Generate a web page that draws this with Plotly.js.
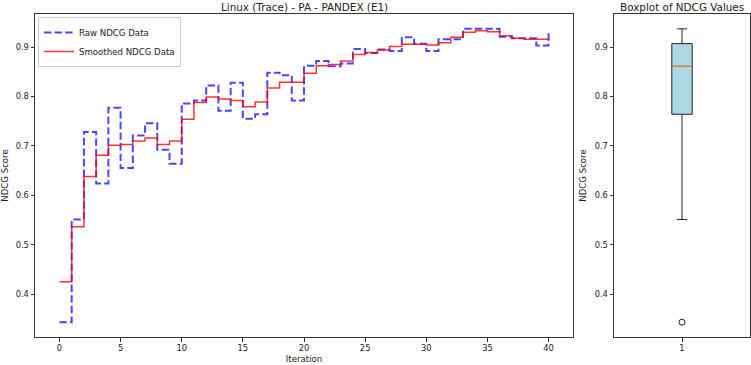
<!DOCTYPE html>
<html>
<head>
<meta charset="utf-8">
<script src="https://cdn.plot.ly/plotly-3.0.1.min.js"></script>
<style>html,body{margin:0;padding:0;background:#fff;}#chart{width:751px;height:365px;}</style>
</head>
<body>
<div id="chart"></div>
<script>
// Data
const iterations = [0,1,2,3,4,5,6,7,8,9,10,11,12,13,14,15,16,17,18,19,20,21,22,23,24,25,26,27,28,29,30,31,32,33,34,35,36,37,38,39,40];
const rawNdcg = [0.343,0.551,0.728,0.624,0.777,0.655,0.721,0.746,0.692,0.664,
                 0.786,0.792,0.822,0.771,0.828,0.755,0.764,0.848,0.843,0.792,
                 0.862,0.872,0.861,0.867,0.896,0.888,0.895,0.892,0.920,0.907,
                 0.892,0.916,0.916,0.937,0.937,0.937,0.921,0.918,0.918,0.903,0.931];
const smoothedNdcg = [0.425,0.536,0.638,0.681,0.701,0.703,0.710,0.716,0.703,0.710,
                      0.754,0.788,0.799,0.795,0.792,0.779,0.789,0.817,0.829,0.829,
                      0.847,0.862,0.865,0.872,0.885,0.889,0.894,0.901,0.906,0.906,
                      0.904,0.909,0.920,0.930,0.933,0.931,0.923,0.918,0.916,0.916,0.918];
const xTicks = [0,5,10,15,20,25,30,35,40];
const yTicks = [0.4,0.5,0.6,0.7,0.8,0.9];
const boxPosition = 1;

function median(arr){
  const s = arr.slice().sort((a,b)=>a-b);
  const n = s.length;
  return n % 2 ? s[(n-1)/2] : (s[n/2-1]+s[n/2])/2;
}
const med = median(rawNdcg);
const boxWidth = 0.15;

const FAM = 'DejaVu Sans, sans-serif';
const tickFont = {family: FAM, size: 8.3, color: '#222'};
const labelFont = {family: FAM, size: 8.6, color: '#222'};
const titleFont = {family: FAM, size: 10.4, color: '#222'};

const traces = [
  {
    x: iterations, y: rawNdcg, type: 'scatter', mode: 'lines',
    name: 'Raw NDCG Data',
    line: {shape: 'hv', color: 'rgba(0,0,255,0.72)', width: 2, dash: '7.4px,3.2px'},
    xaxis: 'x', yaxis: 'y', hoverinfo: 'skip'
  },
  {
    x: iterations, y: smoothedNdcg, type: 'scatter', mode: 'lines',
    name: 'Smoothed NDCG Data',
    line: {shape: 'hv', color: 'rgba(255,0,0,0.8)', width: 1.5},
    xaxis: 'x', yaxis: 'y', hoverinfo: 'skip'
  },
  {
    y: rawNdcg, x0: boxPosition, type: 'box',
    quartilemethod: 'inclusive',
    boxpoints: 'outliers', jitter: 0, pointpos: 0,
    width: boxWidth, whiskerwidth: 0.5,
    fillcolor: '#add8e6',
    line: {color: '#222', width: 1},
    marker: {symbol: 'circle-open', color: '#222', size: 6, line: {width: 1}},
    xaxis: 'x2', yaxis: 'y2', showlegend: false, hoverinfo: 'skip'
  },
  {
    x: [boxPosition - boxWidth/2, boxPosition + boxWidth/2], y: [med, med],
    type: 'scatter', mode: 'lines',
    line: {color: '#ff7f0e', width: 1.2},
    xaxis: 'x2', yaxis: 'y2', showlegend: false, hoverinfo: 'skip'
  }
];

const axisCommon = {
  showline: true, mirror: true, linecolor: '#333', linewidth: 1,
  ticks: 'outside', ticklen: 3.5, tickwidth: 1, tickcolor: '#333',
  showgrid: false, zeroline: false, tickfont: tickFont
};

const layout = {
  width: 751, height: 365,
  margin: {l: 0, r: 0, t: 0, b: 0},
  paper_bgcolor: '#fff', plot_bgcolor: '#fff',
  font: tickFont,
  showlegend: true,
  legend: {
    x: 38/751, y: 348/365, xanchor: 'left', yanchor: 'top',
    bgcolor: 'rgba(255,255,255,0.8)', bordercolor: '#ccc', borderwidth: 1,
    font: labelFont,
    tracegroupgap: 0, itemwidth: 30
  },
  xaxis: Object.assign({}, axisCommon, {
    domain: [35/751, 573/751], range: [-2, 42],
    tickvals: xTicks, ticktext: xTicks.map(String),
    title: {text: 'Iteration', font: labelFont, standoff: 3},
    anchor: 'y'
  }),
  yaxis: Object.assign({}, axisCommon, {
    domain: [28/365, 351/365], range: [0.313, 0.967],
    tickvals: yTicks, ticktext: yTicks.map(v => v.toFixed(1)),
    title: {text: 'NDCG Score', font: labelFont, standoff: 6},
    anchor: 'x'
  }),
  xaxis2: Object.assign({}, axisCommon, {
    domain: [614/751, 750/751], range: [0.5, 1.5],
    tickvals: [boxPosition], ticktext: [String(boxPosition)],
    anchor: 'y2'
  }),
  yaxis2: Object.assign({}, axisCommon, {
    domain: [28/365, 351/365], range: [0.313, 0.967],
    tickvals: yTicks, ticktext: yTicks.map(v => v.toFixed(1)),
    title: {text: 'NDCG Score', font: labelFont, standoff: 6},
    anchor: 'x2'
  }),
  annotations: [
    {text: 'Linux (Trace) - PA - PANDEX (E1)', xref: 'paper', yref: 'paper',
     x: (35+573)/2/751, y: (365-7)/365, xanchor: 'center', yanchor: 'middle',
     showarrow: false, font: titleFont},
    {text: 'Boxplot of NDCG Values', xref: 'paper', yref: 'paper',
     x: (614+750)/2/751, y: (365-7)/365, xanchor: 'center', yanchor: 'middle',
     showarrow: false, font: titleFont}
  ]
};

Plotly.newPlot('chart', traces, layout, {staticPlot: true, displayModeBar: false});
</script>
</body>
</html>
